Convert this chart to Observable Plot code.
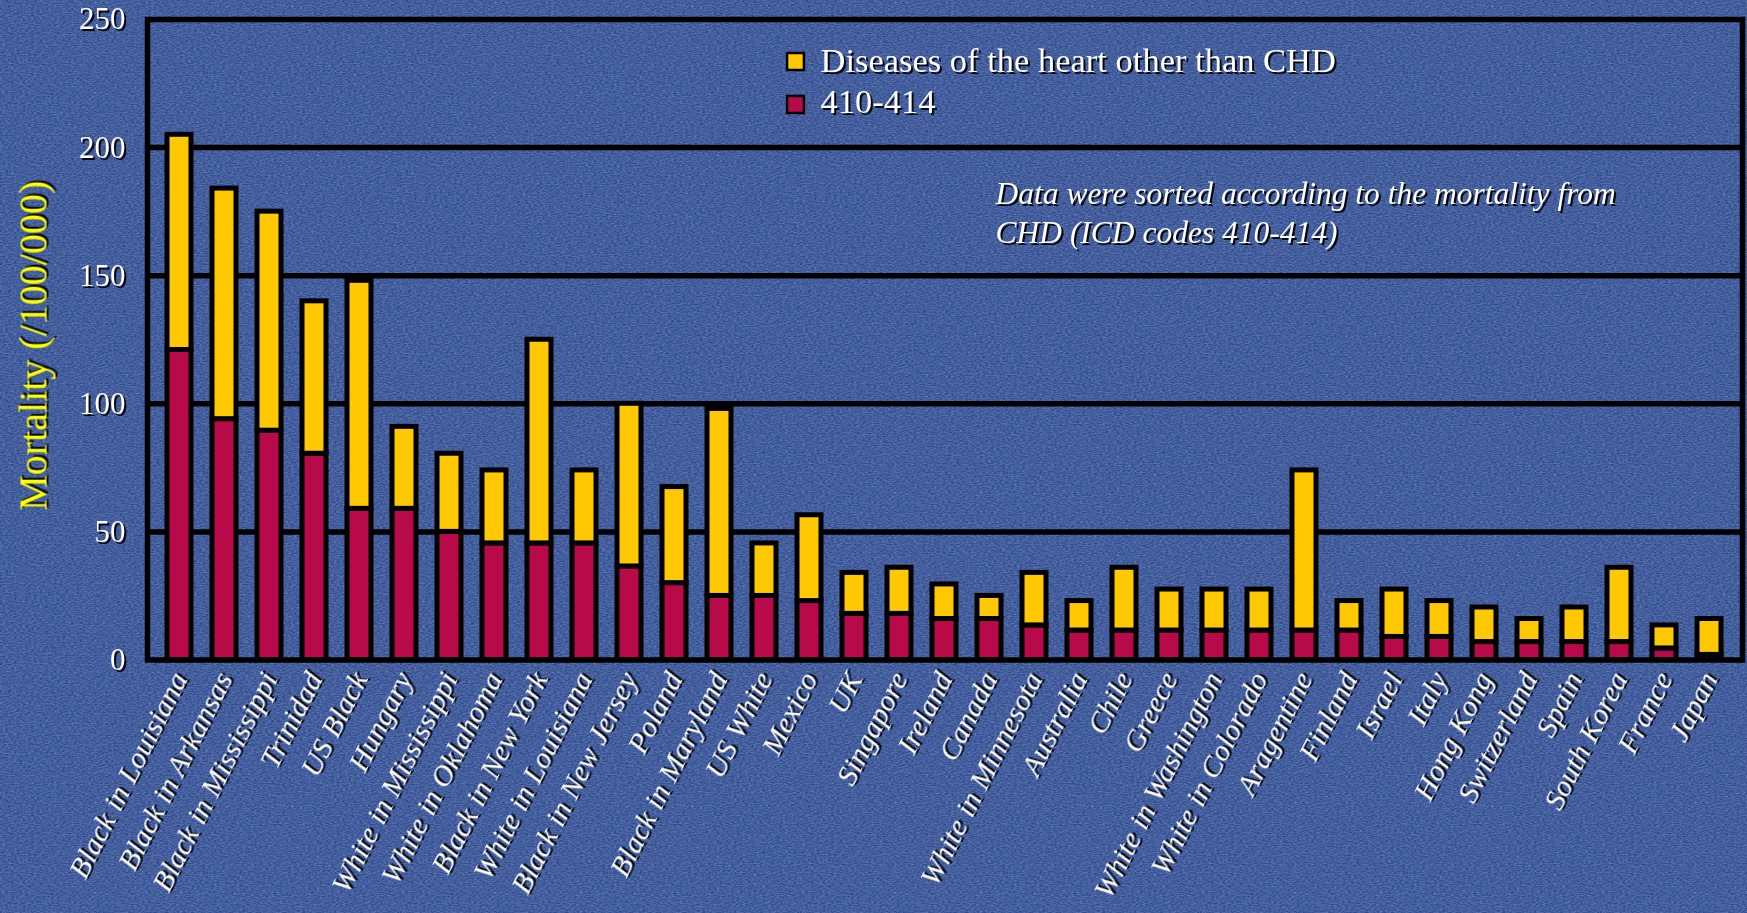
<!DOCTYPE html>
<html><head><meta charset="utf-8">
<script src="https://cdn.jsdelivr.net/npm/d3@7"></script>
<script src="https://cdn.jsdelivr.net/npm/@observablehq/plot@0.6"></script>
<style>
html,body{margin:0;padding:0;}
body{width:1747px;height:913px;overflow:hidden;background-color:#2d4a8f;
background-image:url("data:image/svg+xml;utf8,<svg xmlns='http://www.w3.org/2000/svg' width='400' height='400'><filter id='n'><feTurbulence type='fractalNoise' baseFrequency='0.35 0.9' numOctaves='2' seed='3' stitchTiles='stitch'/><feColorMatrix values='0 0 0 0 0.75  0 0 0 0 0.82  0 0 0 0 1  0 0 0 0.5 -0.12'/></filter><rect width='100%' height='100%' filter='url(%23n)'/></svg>");}
#chart svg text{filter:drop-shadow(2px 2px 0.6px rgba(0,0,0,0.9));}
g[aria-label="x-axis tick label"]{font-style:italic;}
</style></head><body><div id="chart"></div>
<script>
const categories = ["Black in Louisiana","Black in Arkansas","Black in Mississippi","Trinidad","US Black","Hungary","White in Mississippi","White in Oklahoma","Black in New York","White in Louisiana","Black in New Jersey","Poland","Black in Maryland","US White","Mexico","UK","Singapore","Ireland","Canada","White in Minnesota","Australia","Chile","Greece","White in Washington","White in Colorado","Aragentine","Finland","Israel","Italy","Hong Kong","Switzerland","Spain","South Korea","France","Japan"];
// CHD (ICD 410-414) mortality, bottom segment
const chd = [121,94,89.5,80.5,59,59,50,45.5,45.5,45.5,36.5,30,25,25,23,18,18,16,16,13.5,11.5,11.5,11.5,11.5,11.5,11.5,11.5,9,9,7,7,7,7,4.5,2];
// Other diseases of the heart, top segment
const other = [84,90,85.5,59.5,89,32,30.5,28.5,79.5,28.5,63.5,37.5,73,20.5,33.5,16,18,13.5,9,20.5,11.5,24.5,16,16,16,62.5,11.5,18.5,14,13.5,9,13.5,29,9,14];
const seriesNames = ["410-414","Diseases of the heart other than CHD"];
const seriesColors = ["#b80a48","#ffc800"];
const yTicks = [0,50,100,150,200,250];
const gridValues = [50,100,150,200];
const yLabel = "Mortality (/100/000)";
const note = ["Data were sorted according to the mortality from","CHD (ICD codes 410-414)"];

const rows = [];
categories.forEach((c,i)=>{
  rows.push({country:c, series:seriesNames[0], value:chd[i]});
  rows.push({country:c, series:seriesNames[1], value:other[i]});
});

const font = "Liberation Serif";
const chart = Plot.plot({
  width:1747, height:913,
  marginLeft:147, marginRight:5, marginTop:19, marginBottom:253.5,
  style:{background:"transparent", fontFamily:font, overflow:"visible"},
  x:{domain:categories, paddingInner:0.457, paddingOuter:0.4, label:null},
  y:{domain:[0,250], label:null},
  color:{domain:seriesNames, range:seriesColors},
  marks:[
    Plot.ruleY(gridValues, {stroke:"#000", strokeWidth:5.5}),
    Plot.barY(rows, {x:"country", y:"value", fill:"series", stroke:"#000", strokeWidth:5}),
    Plot.frame({stroke:"#000", strokeWidth:5.5}),
    Plot.axisY({ticks:yTicks, tickSize:0, tickPadding:22, fontSize:31, color:"white", fontFamily:font, label:null}),
    Plot.axisX({tickSize:0, tickPadding:14, tickRotate:-63, fontSize:30, fontStyle:"italic", color:"white", fontFamily:font, label:null}),
    Plot.text([yLabel], {frameAnchor:"left", dx:-114, dy:6, rotate:-90, textAnchor:"middle", lineAnchor:"middle", fill:"#ffff00", fontSize:40, fontFamily:font}),
    Plot.dot([seriesNames[1]], {frameAnchor:"top-left", dx:648, dy:42, symbol:"square", r:9.5, fill:d=>d, stroke:"#000", strokeWidth:2.5}),
    Plot.dot([seriesNames[0]], {frameAnchor:"top-left", dx:648, dy:85, symbol:"square", r:9.5, fill:d=>d, stroke:"#000", strokeWidth:2.5}),
    Plot.text([seriesNames[1]], {frameAnchor:"top-left", dx:673, dy:41.5, textAnchor:"start", lineAnchor:"middle", fill:"white", fontSize:34.5, fontFamily:font}),
    Plot.text([seriesNames[0]], {frameAnchor:"top-left", dx:673, dy:82.5, textAnchor:"start", lineAnchor:"middle", fill:"white", fontSize:34.5, fontFamily:font}),
    Plot.text([note.join("\n")], {frameAnchor:"top-left", dx:848, dy:191.5, textAnchor:"start", lineAnchor:"middle", lineHeight:1.22, fill:"white", fontSize:31.5, fontStyle:"italic", fontFamily:font})
  ]
});
document.getElementById("chart").appendChild(chart);
</script></body></html>
